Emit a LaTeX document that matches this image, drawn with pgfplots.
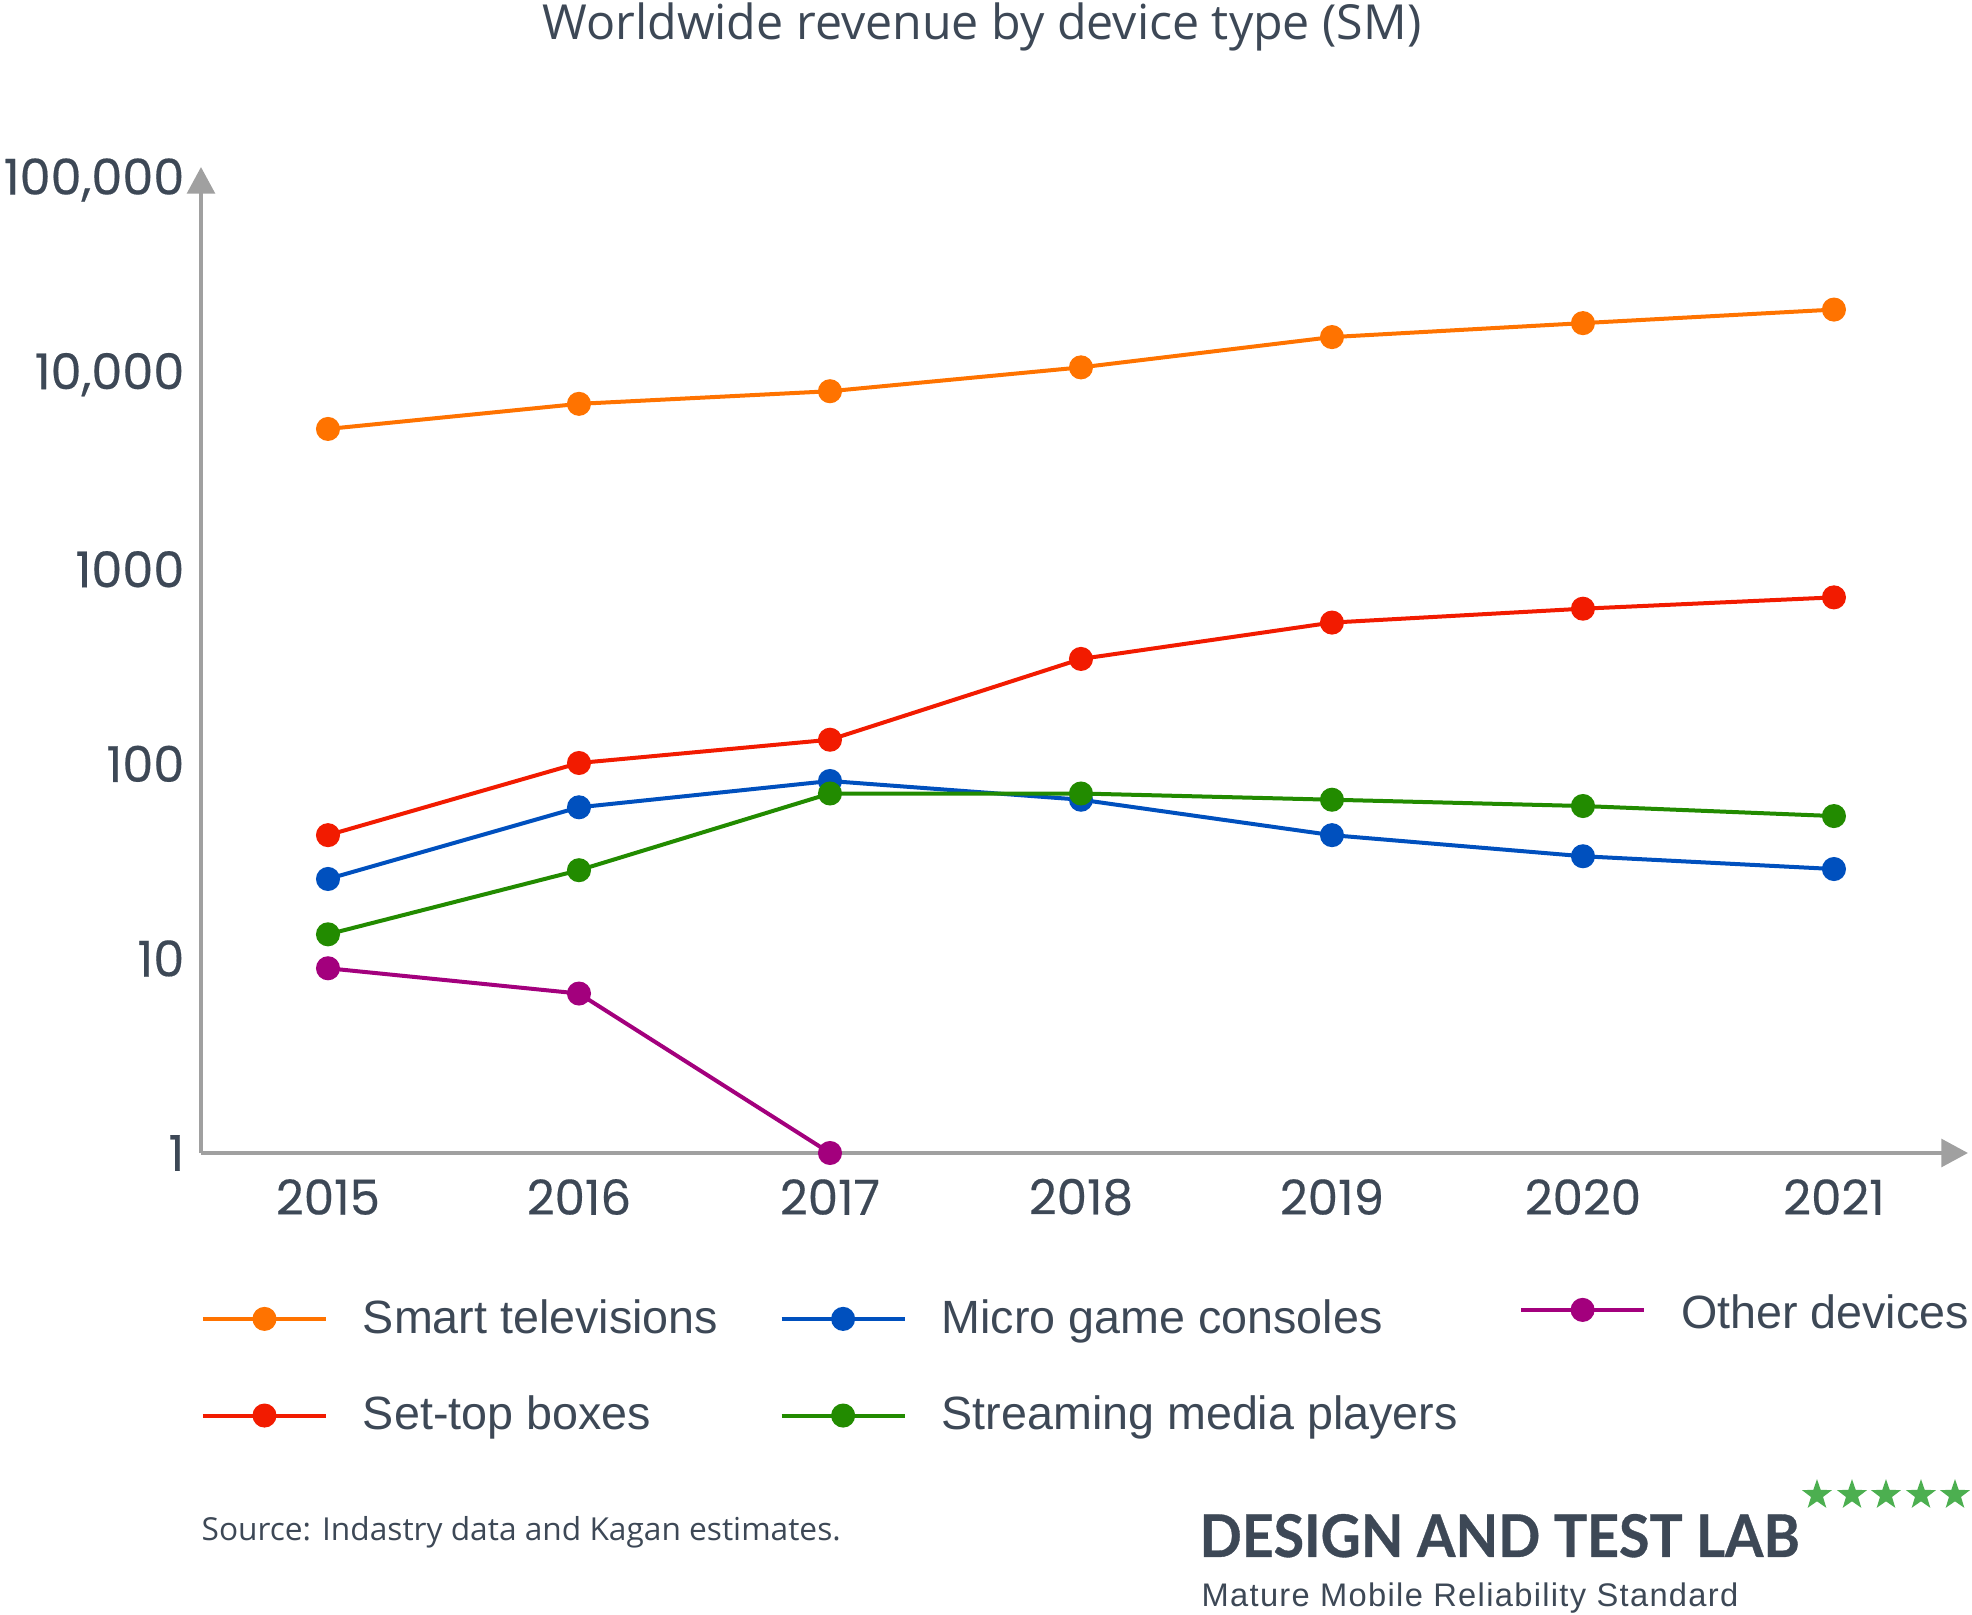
\documentclass[border=0pt]{standalone}
\usepackage{pgfplots}
\pgfplotsset{compat=1.18}
\usepackage{fontspec}
\usepackage{graphicx}
\usetikzlibrary{arrows.meta,shapes.geometric}
\setmainfont{Liberation Sans}
\newfontfamily\tickfont{Poppins}[FakeBold=0.35]
\newfontfamily\titlefont{Open Sans}
\newfontfamily\logofont{Lato}[FakeBold=0.6]
\definecolor{txt}{HTML}{3D4856}
\definecolor{axisgray}{HTML}{A0A0A0}
\definecolor{corange}{HTML}{FF7300}
\definecolor{cred}{HTML}{F21B00}
\definecolor{cblue}{HTML}{0050BE}
\definecolor{cgreen}{HTML}{228B00}
\definecolor{cpurple}{HTML}{A3007D}
\definecolor{stargreen}{HTML}{4CAF50}
\begin{document}
\begin{tikzpicture}[x=0.3pt,y=0.3pt]
\path (0,0) rectangle (1972,1614);
\begin{axis}[
  at={(60.3pt,138.3pt)}, anchor=south west,
  scale only axis, width=530.1pt, height=295.8pt,
  xmin=2014.494, xmax=2021.534,
  ymode=log, ymin=1, ymax=116700,
  clip=false,
  axis lines=left,
  axis line style={draw=axisgray, line width=1.2pt},
  x axis line style={-{Triangle[width=8.3pt,length=8pt]}},
  y axis line style={-{Triangle[width=8.3pt,length=8pt]}},
  major tick length=0pt, minor tick num=0,
  tick style={draw=none},
  xtick={2015,2016,2017,2018,2019,2020,2021},
  xticklabels={2015,2016,2017,2018,2019,2020,2021},
  ytick={1,10,100,1000,10000,100000},
  yticklabels={1,10,100,1000,{10,000},{100,000}},
  yticklabel style={font=\tickfont\fontsize{14.8}{16}\selectfont, text=txt, inner sep=0pt, anchor=east, xshift=-4.8pt},
  xticklabel style={font=\tickfont\fontsize{14.5}{16}\selectfont, text=txt, inner sep=0pt, anchor=center, yshift=-13.2pt},
  every axis plot/.append style={line width=1.2pt, mark=*, mark size=3pt, mark options={draw=none}},
  legend columns=3,
  legend cell align=left,
  legend style={draw=none, fill=none, inner sep=0pt, outer sep=0pt,
    at={(axis description cs:0,-0.144)}, anchor=north west,
    font=\fontsize{14}{16}\selectfont, text=txt,
    nodes={inner sep=0pt},
    row sep=16pt,
    /tikz/every odd column/.append style={column sep=10.5pt},
    /tikz/every even column/.append style={column sep=18.4pt}},
  legend image code/.code={\draw[mark repeat=2,mark phase=2,#1] plot coordinates {(0pt,0pt) (18.45pt,0pt) (36.9pt,0pt)};},
]
\addplot[color=corange] coordinates {(2015,5260)(2016,7080)(2017,8220)(2018,10900)(2019,15600)(2020,18400)(2021,21600)};
\addlegendentry{Smart televisions}
\addplot[color=cblue] coordinates {(2015,25.6)(2016,59.8)(2017,81.6)(2018,65.4)(2019,43)(2020,33.5)(2021,28.8)};
\addlegendentry{Micro game consoles}
\addplot[color=cpurple, legend image post style={yshift=2.7pt}] coordinates {(2015,8.9)(2016,6.6)(2017,1)};
\addlegendentry{\raisebox{2.7pt}{Other devices}}
\addplot[color=cred] coordinates {(2015,43)(2016,101)(2017,133)(2018,346)(2019,532)(2020,627)(2021,717)};
\addlegendentry{Set-top boxes}
\addplot[color=cgreen] coordinates {(2015,13.3)(2016,28.4)(2017,70.4)(2018,70.4)(2019,65.4)(2020,60.7)(2021,53.9)};
\addlegendentry{Streaming media players}
\end{axis}
\node[anchor=base, inner sep=0pt, font=\titlefont\fontsize{14.5}{16}\selectfont, text=txt] at (982,1574) {Worldwide revenue by device type (SM)};
\node[anchor=base west, inner sep=0pt, font=\titlefont\fontsize{9.5}{11}\selectfont, text=txt] at (201,74) {Source: Indastry data and Kagan estimates.};
\node[anchor=base west, inner sep=0pt, text=txt] at (1199,57) {\resizebox{180pt}{12.9pt}{\logofont\bfseries DESIGN AND TEST LAB}};
\node[anchor=base west, inner sep=0pt, text=txt] at (1201,8) {\resizebox{161pt}{!}{\fontsize{10}{12}\selectfont\addfontfeatures{LetterSpace=4}Mature Mobile Reliability Standard}};
\foreach \sx in {1817,1852,1886,1921,1955}
  \node[star, star points=5, star point ratio=2.5, fill=stargreen, draw=none, inner sep=0pt, minimum size=9.5pt] at (\sx,119) {};
\end{tikzpicture}
\end{document}
